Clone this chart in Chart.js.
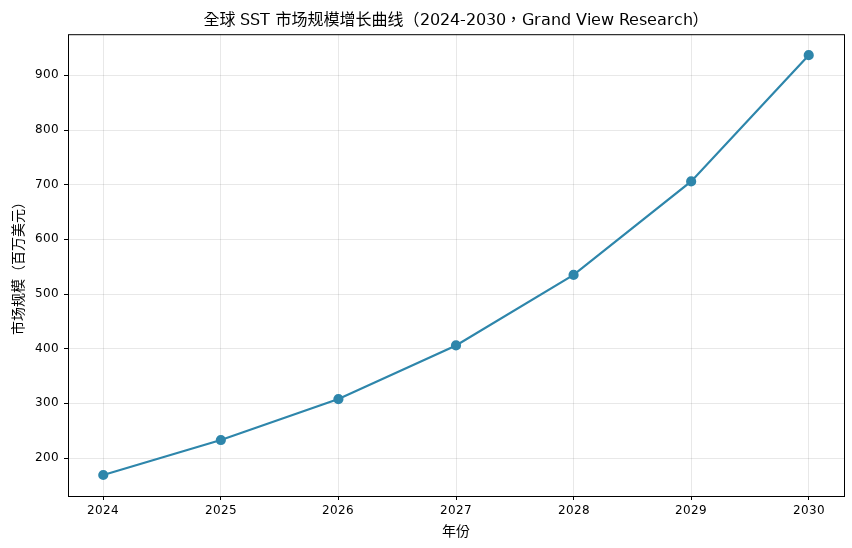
<!DOCTYPE html>
<html>
<head>
<meta charset="utf-8">
<script src="https://cdn.jsdelivr.net/npm/chart.js@4/dist/chart.umd.min.js"></script>
<style>
  html, body { margin: 0; padding: 0; background: #fff; }
  #wrap { width: 852px; height: 548px; }
  /* Latin glyphs from DejaVu, everything else (CJK + full-width punctuation) from Noto CJK */
  @font-face {
    font-family: "LatinPart";
    src: local("DejaVu Sans");
    unicode-range: U+0000-024F;
  }
</style>
</head>
<body>
<div id="wrap"><canvas id="sstChart" width="852" height="548"></canvas></div>
<script>
// ---------- Data ----------
const years = [2024, 2025, 2026, 2027, 2028, 2029, 2030];
const marketSize = [169, 233, 308, 406, 535, 706, 937];  // 百万美元
const yTicks = [200, 300, 400, 500, 600, 700, 800, 900];

const FONT = "LatinPart, 'Noto Sans CJK TC', 'DejaVu Sans', sans-serif";
const LINE_COLOR = "#2E86AB";

// matplotlib-like full frame around the plot area
const framePlugin = {
  id: "frame",
  afterDraw(chart) {
    const a = chart.chartArea;
    const ctx = chart.ctx;
    ctx.save();
    ctx.strokeStyle = "#000";
    ctx.lineWidth = 1;
    ctx.strokeRect(a.left + 0.5, a.top + 0.5, a.right - a.left, a.bottom - a.top);
    ctx.restore();
  }
};

function initChart() {
  const ctx = document.getElementById("sstChart").getContext("2d");
  new Chart(ctx, {
    type: "line",
    data: {
      datasets: [{
        label: "市场规模",
        data: years.map((y, i) => ({ x: y, y: marketSize[i] })),
        borderColor: LINE_COLOR,
        backgroundColor: LINE_COLOR,
        borderWidth: 2.2,
        pointRadius: 4,
        pointHoverRadius: 4,
        tension: 0
      }]
    },
    options: {
      responsive: false,
      animation: false,
      layout: { padding: { left: 8, right: 8, top: 0, bottom: 0 } },
      plugins: {
        legend: { display: false },
        tooltip: { enabled: false },
        title: {
          display: true,
          fullSize: false,   // centre over the plot area, like matplotlib
          text: "全球 SST 市场规模增长曲线（2024-2030，Grand View Research）",
          color: "#000",
          font: { family: FONT, size: 16, weight: "normal" },
          padding: { top: 11, bottom: 4 }
        }
      },
      scales: {
        x: {
          type: "linear",
          min: 2023.7,
          max: 2030.3,
          afterBuildTicks: axis => { axis.ticks = years.map(v => ({ value: v })); },
          afterFit: axis => { axis.height = 52; },
          ticks: {
            color: "#000",
            font: { family: FONT, size: 11.5 },
            padding: 4,
            callback: v => String(v)
          },
          grid: { color: "rgba(0,0,0,0.09)", tickColor: "#000", tickLength: 4 },
          border: { display: false },
          title: {
            display: true,
            text: "年份",
            color: "#000",
            font: { family: FONT, size: 14 },
            padding: { top: 0, bottom: 7 }
          }
        },
        y: {
          type: "linear",
          min: 130.6,
          max: 975.4,
          afterBuildTicks: axis => { axis.ticks = yTicks.map(v => ({ value: v })); },
          afterFit: axis => { axis.width = 60; },
          ticks: {
            color: "#000",
            font: { family: FONT, size: 11.5 },
            padding: 5
          },
          grid: { color: "rgba(0,0,0,0.09)", tickColor: "#000", tickLength: 4 },
          border: { display: false },
          title: {
            display: true,
            text: "市场规模（百万美元）",
            color: "#000",
            font: { family: FONT, size: 14 },
            padding: { top: 3, bottom: 4 }
          }
        }
      }
    },
    plugins: [framePlugin]
  });
}

// wait for the local font faces before drawing on the canvas
window.addEventListener("load", () => {
  Promise.all([
    document.fonts.load("16px LatinPart", "SST 2024"),
    document.fonts.load("16px 'Noto Sans CJK TC'", "全球")
  ]).catch(() => {}).then(initChart);
});
</script>
</body>
</html>
